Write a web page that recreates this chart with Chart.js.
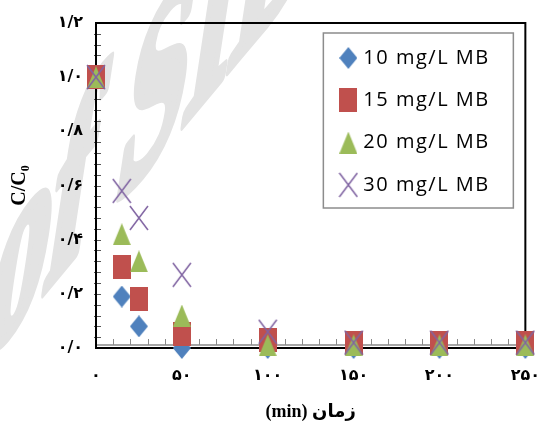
<!DOCTYPE html>
<html>
<head>
<meta charset="utf-8">
<script src="https://cdn.jsdelivr.net/npm/chart.js@4.4.0/dist/chart.umd.min.js"></script>
<style>
  html, body { margin: 0; padding: 0; background: #fff; }
  #wrap { width: 550px; height: 426px; }
  canvas { direction: rtl; }
</style>
</head>
<body>
<div id="wrap"><canvas id="chart"></canvas></div>
<script>
// time (min) and C/C0 for each MB concentration
const times = [0, 15, 25, 50, 100, 150, 200, 250];
const mb10 = [1.0, 0.19, 0.08, 0.0, 0.0, 0.0, 0.0, 0.0];
const mb15 = [1.0, 0.30, 0.18, 0.05, 0.03, 0.02, 0.02, 0.02];
const mb20 = [1.0, 0.42, 0.32, 0.12, 0.01, 0.01, 0.01, 0.01];
const mb30 = [1.0, 0.58, 0.48, 0.27, 0.06, 0.02, 0.02, 0.02];
const seriesLabels = ['10 mg/L MB', '15 mg/L MB', '20 mg/L MB', '30 mg/L MB'];
const xTicks = [0, 50, 100, 150, 200, 250];
const yTicks = [0, 0.2, 0.4, 0.6, 0.8, 1.0, 1.2];
const xMinorStep = 10;
const yMinorStep = 0.04;

const faDigits = '۰۱۲۳۴۵۶۷۸۹';
function toFa(s) {
    return String(s).replace(/\d/g, d => faDigits[d]).replace('.', '/');
}

// marker shapes (slightly taller than wide, like the original)
function marker(w, h, draw) {
    const c = document.createElement('canvas');
    c.width = w;
    c.height = h;
    draw(c.getContext('2d'), w, h);
    return c;
}
const diamond = marker(18, 22, (g, w, h) => {
    g.fillStyle = '#4F81BD';
    g.beginPath();
    g.moveTo(w / 2, 0); g.lineTo(w, h / 2); g.lineTo(w / 2, h); g.lineTo(0, h / 2);
    g.closePath();
    g.fill();
});
const square = marker(18, 24, (g, w, h) => {
    g.fillStyle = '#C0504D';
    g.fillRect(0, 0, w, h);
});
const triangle = marker(18, 22, (g, w, h) => {
    g.fillStyle = '#9BBB59';
    g.beginPath();
    g.moveTo(w / 2, 0); g.lineTo(w, h); g.lineTo(0, h);
    g.closePath();
    g.fill();
});
const cross = marker(20, 26, (g, w, h) => {
    g.strokeStyle = '#8064A2';
    g.lineWidth = 1.5;
    g.beginPath();
    g.moveTo(1, 1); g.lineTo(w - 1, h - 1);
    g.moveTo(w - 1, 1); g.lineTo(1, h - 1);
    g.stroke();
});
const markers = [diamond, square, triangle, cross];

function pts(vals) {
    return times.map((t, i) => ({ x: t, y: vals[i] }));
}

// faint "Archive of SID" stamp behind the chart
const watermark = {
    id: 'watermark',
    beforeDraw(chart) {
        const ctx = chart.ctx;
        ctx.save();
        ctx.direction = 'ltr';
        ctx.fillStyle = '#e3e3e3';
        ctx.strokeStyle = '#e3e3e3';
        ctx.lineWidth = 5;
        ctx.lineJoin = 'round';
        ctx.font = 'bold 100px "Liberation Serif"';
        ctx.textAlign = 'left';
        ctx.textBaseline = 'alphabetic';
        ctx.transform(1.216, -1.463, -0.405, 2.673, -19.7, 368.1);
        const pre = 'Archive ';
        const x0 = -ctx.measureText(pre).width;
        ctx.fillText(pre + 'of SID', x0, 0);
        ctx.strokeText(pre + 'of SID', x0, 0);
        ctx.restore();
    }
};

const frame = {
    id: 'frame',
    beforeDatasetsDraw(chart) {
        const { ctx, chartArea: a, scales: { x, y } } = chart;
        ctx.save();
        ctx.lineWidth = 2;
        ctx.strokeStyle = '#a6a6a6';
        ctx.beginPath();
        ctx.moveTo(a.left, a.bottom - 3);
        ctx.lineTo(a.right, a.bottom - 3);
        ctx.stroke();
        ctx.lineWidth = 1;
        ctx.strokeStyle = '#8a8a8a';
        ctx.beginPath();
        for (let v = xMinorStep; v < x.max; v += xMinorStep) {
            const px = Math.round(x.getPixelForValue(v)) + 0.5;
            ctx.moveTo(px, a.bottom - 3);
            ctx.lineTo(px, a.bottom - 9);
        }
        ctx.stroke();
        ctx.strokeStyle = '#555';
        ctx.beginPath();
        for (let k = 1; k * yMinorStep < y.max; k++) {
            const py = Math.round(y.getPixelForValue(k * yMinorStep)) + 0.5;
            ctx.moveTo(a.left - 2, py);
            ctx.lineTo(a.left + 5, py);
        }
        ctx.stroke();
        ctx.lineWidth = 2;
        ctx.strokeStyle = '#000';
        ctx.strokeRect(a.left, a.top, a.right - a.left, a.bottom - a.top);
        ctx.restore();
    }
};

const boxLegend = {
    id: 'boxLegend',
    afterDatasetsDraw(chart) {
        const { ctx, chartArea: a } = chart;
        const left = a.right - 202, top = a.top + 10, w = 190, h = 175;
        ctx.save();
        ctx.fillStyle = '#fff';
        ctx.fillRect(left, top, w, h);
        ctx.strokeStyle = '#8c8c8c';
        ctx.lineWidth = 1.5;
        ctx.strokeRect(left, top, w, h);
        ctx.direction = 'ltr';
        ctx.fillStyle = '#000';
        ctx.font = '20px "Open Sans"';
        ctx.letterSpacing = '1.5px';
        ctx.textAlign = 'left';
        ctx.textBaseline = 'middle';
        chart.data.datasets.forEach((ds, i) => {
            const cy = top + 25 + i * 42.3;
            const img = markers[i];
            ctx.drawImage(img, left + 25 - img.width / 2, cy - img.height / 2);
            ctx.fillText(ds.label, left + 40, cy);
        });
        ctx.restore();
    }
};

const tickFont = { family: '"DejaVu Sans"', size: 16, weight: 'bold' };

new Chart(document.getElementById('chart'), {
    type: 'scatter',
    data: {
        datasets: [mb10, mb15, mb20, mb30].map((vals, i) => ({
            label: seriesLabels[i],
            data: pts(vals),
            pointStyle: markers[i],
            pointRadius: 10,
            clip: false,
            order: 3 - i
        }))
    },
    options: {
        responsive: true,
        maintainAspectRatio: false,
        animation: false,
        layout: { padding: { top: 23, right: 20, left: 0, bottom: 0 } },
        plugins: {
            legend: { display: false },
            tooltip: { enabled: false }
        },
        scales: {
            x: {
                type: 'linear',
                min: 0,
                max: 250,
                afterFit: s => { s.height = 78; },
                afterBuildTicks: s => { s.ticks = xTicks.map(v => ({ value: v })); },
                grid: { display: false },
                border: { display: false },
                ticks: {
                    color: '#000',
                    padding: 10,
                    maxRotation: 0,
                    autoSkip: false,
                    font: tickFont,
                    callback: v => toFa(v)
                },
                title: {
                    display: true,
                    text: 'زمان (min)',
                    color: '#000',
                    padding: { top: 0, bottom: 3 },
                    font: { family: '"Liberation Serif", "DejaVu Sans"', size: 18, weight: 'bold' }
                }
            },
            y: {
                min: 0,
                max: 1.2,
                afterFit: s => { s.width = 96; },
                afterBuildTicks: s => { s.ticks = yTicks.map(v => ({ value: v })); },
                grid: { display: false },
                border: { display: false },
                ticks: {
                    color: '#000',
                    padding: 5,
                    font: tickFont,
                    callback: v => toFa(v.toFixed(1))
                },
                title: {
                    display: true,
                    text: 'C/C₀',
                    color: '#000',
                    padding: { top: 8, bottom: 0 },
                    font: { family: '"Liberation Serif"', size: 20, weight: 'bold' }
                }
            }
        }
    },
    plugins: [watermark, frame, boxLegend]
});
</script>
</body>
</html>
